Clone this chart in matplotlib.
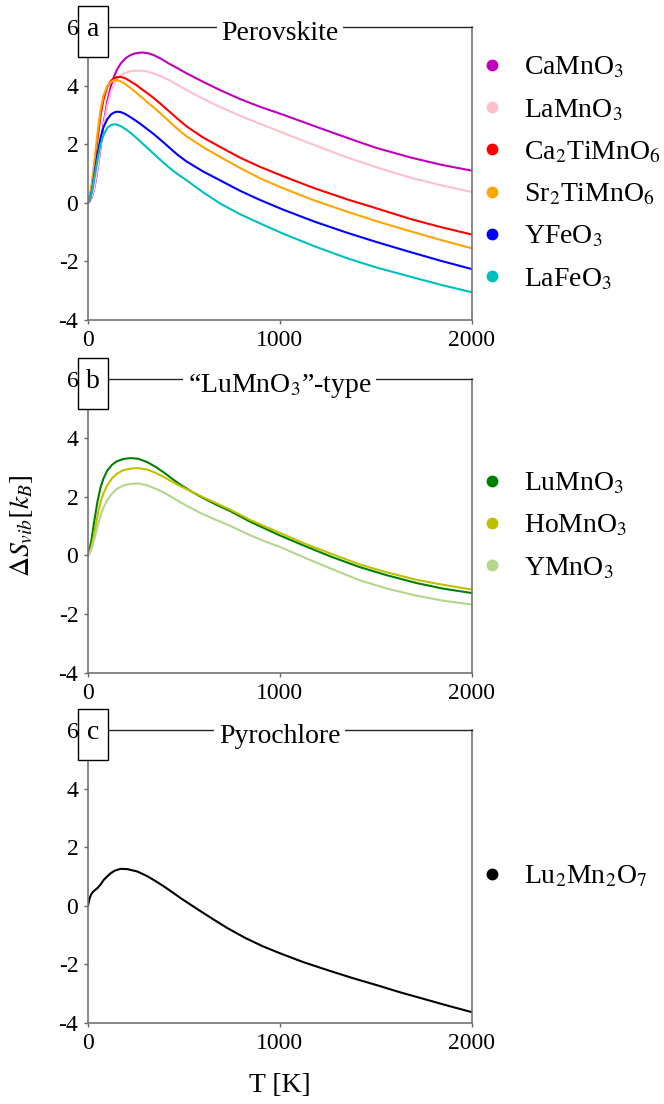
#!/usr/bin/env python3
"""Vibrational entropy difference vs temperature for three structure families."""

import matplotlib
matplotlib.use("Agg")
import matplotlib.pyplot as plt
from matplotlib.lines import Line2D
from matplotlib.patches import Rectangle

plt.rcParams["font.family"] = ["Liberation Serif", "DejaVu Serif"]
plt.rcParams["mathtext.fontset"] = "stix"
plt.rcParams["axes.unicode_minus"] = False

# panel a: perovskite
T_A = [0, 10, 20, 30, 40, 50, 65, 80, 100, 120, 135, 150, 170, 195, 220, 250, 280, 310,
       340, 380, 420, 465, 514, 600, 688, 790, 896, 1020, 1180, 1350, 1500, 1680, 1840, 2000]
CAMNO3 = [0, 0.05, 0.2, 0.42, 0.75, 1.15, 1.85, 2.65, 3.45, 4.0, 4.3, 4.53, 4.75, 4.93, 5.04, 5.11, 5.13, 5.11,
          5.05, 4.92, 4.76, 4.6, 4.42, 4.13, 3.85, 3.55, 3.28, 3.0, 2.62, 2.22, 1.88, 1.55, 1.3, 1.10]
LAMNO3 = [0, 0.05, 0.22, 0.45, 0.8, 1.2, 1.9, 2.6, 3.3, 3.8, 4.05, 4.22, 4.35, 4.44, 4.49, 4.51, 4.51, 4.48,
          4.42, 4.32, 4.2, 4.03, 3.85, 3.55, 3.27, 2.98, 2.7, 2.38, 1.97, 1.55, 1.22, 0.86, 0.6, 0.37]
CA2TIMNO6 = [0, 0.2, 0.6, 1.1, 1.65, 2.2, 2.95, 3.5, 3.95, 4.17, 4.25, 4.29, 4.30, 4.25, 4.15, 4.03, 3.88, 3.74,
             3.59, 3.37, 3.14, 2.88, 2.61, 2.23, 1.91, 1.55, 1.23, 0.9, 0.5, 0.12, -0.18, -0.55, -0.83, -1.08]
SR2TIMNO6 = [0, 0.22, 0.65, 1.2, 1.8, 2.4, 3.15, 3.65, 3.98, 4.13, 4.18, 4.19, 4.15, 4.05, 3.93, 3.77, 3.6, 3.43,
             3.27, 3.04, 2.8, 2.53, 2.27, 1.9, 1.57, 1.2, 0.84, 0.49, 0.08, -0.30, -0.62, -0.97, -1.27, -1.55]
YFEO3 = [0, 0.12, 0.4, 0.8, 1.25, 1.68, 2.2, 2.57, 2.85, 3.02, 3.08, 3.11, 3.10, 3.03, 2.93, 2.8, 2.66, 2.51,
         2.36, 2.14, 1.91, 1.65, 1.41, 1.07, 0.77, 0.42, 0.10, -0.24, -0.64, -1.02, -1.33, -1.68, -1.98, -2.26]
LAFEO3 = [0, 0.12, 0.38, 0.75, 1.12, 1.5, 1.98, 2.3, 2.55, 2.66, 2.68, 2.67, 2.62, 2.52, 2.4, 2.23, 2.05, 1.87,
          1.69, 1.45, 1.22, 0.99, 0.77, 0.36, -0.02, -0.38, -0.70, -1.06, -1.48, -1.89, -2.2, -2.52, -2.8, -3.05]

# panel b: "LuMnO3"-type
T_B = [0, 10, 20, 30, 40, 50, 65, 80, 100, 125, 150, 185, 220, 260, 310, 355, 400, 440, 483,
       540, 600, 670, 743, 844, 920, 1000, 1130, 1270, 1417, 1560, 1712, 1850, 2000]
LUMNO3 = [0, 0.25, 0.6, 1.05, 1.45, 1.85, 2.3, 2.6, 2.88, 3.08, 3.2, 3.28, 3.31, 3.29, 3.17, 3.0, 2.8, 2.6, 2.4,
          2.17, 1.95, 1.72, 1.50, 1.15, 0.92, 0.68, 0.32, -0.05, -0.40, -0.68, -0.94, -1.13, -1.28]
HOMNO3 = [0, 0.12, 0.35, 0.65, 1.0, 1.35, 1.8, 2.1, 2.38, 2.62, 2.78, 2.9, 2.95, 2.97, 2.92, 2.8, 2.65, 2.5, 2.35,
          2.17, 1.98, 1.77, 1.55, 1.21, 0.99, 0.77, 0.40, 0.05, -0.31, -0.58, -0.83, -1.00, -1.16]
YMNO3 = [0, 0.08, 0.25, 0.48, 0.72, 0.98, 1.35, 1.62, 1.87, 2.1, 2.26, 2.38, 2.43, 2.45, 2.38, 2.26, 2.12, 1.97, 1.8,
         1.6, 1.4, 1.2, 1.0, 0.69, 0.48, 0.29, -0.08, -0.46, -0.85, -1.13, -1.37, -1.54, -1.67]

# panel c: pyrochlore
T_C = [0, 5, 10, 16, 23, 35, 49, 65, 83, 100, 118, 140, 170, 205, 257, 309, 350, 396, 440, 483,
       569, 650, 726, 820, 910, 1000, 1125, 1250, 1375, 1500, 1625, 1750, 1875, 2000]
LU2MN2O7 = [0, 0.15, 0.28, 0.38, 0.45, 0.53, 0.6, 0.72, 0.89, 1.0, 1.11, 1.2, 1.26, 1.25, 1.17, 1.01, 0.85, 0.66, 0.46, 0.26,
            -0.11, -0.45, -0.76, -1.1, -1.38, -1.62, -1.93, -2.2, -2.46, -2.7, -2.95, -3.18, -3.41, -3.63]

PANELS = [
    ("a", "Perovskite", T_A, [
        (CAMNO3, r"CaMnO$_3$", "m"),
        (LAMNO3, r"LaMnO$_3$", "pink"),
        (CA2TIMNO6, r"Ca$_2$TiMnO$_6$", "r"),
        (SR2TIMNO6, r"Sr$_2$TiMnO$_6$", "orange"),
        (YFEO3, r"YFeO$_3$", "b"),
        (LAFEO3, r"LaFeO$_3$", "c"),
    ]),
    ("b", "\u201cLuMnO$_3$\u201d-type", T_B, [
        (LUMNO3, r"LuMnO$_3$", "g"),
        (HOMNO3, r"HoMnO$_3$", "y"),
        (YMNO3, r"YMnO$_3$", "#b4d68c"),
    ]),
    ("c", "Pyrochlore", T_C, [
        (LU2MN2O7, r"Lu$_2$Mn$_2$O$_7$", "k"),
    ]),
]

fig = plt.figure(figsize=(6.64, 11.04), dpi=100)
bottoms = [0.7101, 0.3904, 0.0734]
heights = [0.2654, 0.2663, 0.2654]

for (tag, title, temps, series), bottom, height in zip(PANELS, bottoms, heights):
    ax = fig.add_axes([0.1325, bottom, 0.578, height])
    handles = []
    for values, label, color in series:
        line, = ax.plot(temps, values, color=color, lw=1.5)
        handles.append(Line2D([], [], ls="none", marker="o", ms=7.5,
                              color=line.get_color(), label=label))
    ax.set_xlim(0, 2000)
    ax.set_ylim(-4, 6)
    ax.set_xticks([0, 1000, 2000])
    ax.set_yticks([-4, -2, 0, 2, 4, 6])
    ax.tick_params(direction="out", length=3, width=1, labelsize=17, pad=4, color="0.4")
    for side in ["left", "bottom", "right"]:
        ax.spines[side].set_color("0.45")
        ax.spines[side].set_linewidth(1.2)
    ax.spines["top"].set_color("0.15")
    ax.spines["top"].set_linewidth(1.0)

    ax.text(0.5, 0.978, title, transform=ax.transAxes, ha="center", va="center",
            fontsize=20, bbox=dict(facecolor="white", edgecolor="none", pad=3.5))

    # boxed panel tag over the top-left corner
    ax.add_patch(Rectangle((-0.026, 0.898), 0.078, 0.174, transform=ax.transAxes,
                           facecolor="white", edgecolor="black", lw=1.0,
                           clip_on=False, zorder=5))
    ax.text(0.013, 0.993, tag, transform=ax.transAxes, ha="center", va="center",
            fontsize=20, zorder=6)

    ax.legend(handles=handles, loc="center left", bbox_to_anchor=(0.995, 0.5),
              frameon=False, fontsize=20, handlelength=0.8, handletextpad=0.75,
              labelspacing=0.6, borderaxespad=0.0)

    if tag == "b":
        ax.set_ylabel(r"$\Delta S_{vib}[k_B]$", fontsize=20, labelpad=17)
    if tag == "c":
        ax.set_xlabel("T [K]", fontsize=20, labelpad=14)

fig.savefig("out.png", dpi=100)
